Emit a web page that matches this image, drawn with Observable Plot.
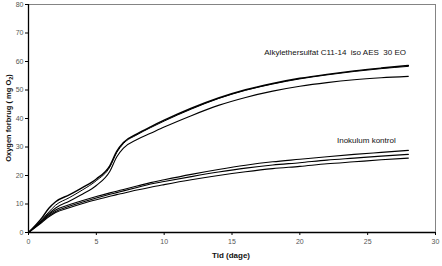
<!DOCTYPE html>
<html><head><meta charset="utf-8">
<script src="https://cdn.jsdelivr.net/npm/d3@7"></script>
<script src="https://cdn.jsdelivr.net/npm/@observablehq/plot@0.6"></script>
<style>
body{margin:0;background:#fff;}
svg{font-family:"Liberation Sans",Arial,sans-serif;}
</style></head><body><div id="chart"></div>
<script>
const days = [0, 1, 1.5, 2, 3, 4, 5, 6, 6.5, 7, 8, 9, 10, 12, 14, 16, 18, 20, 22, 24, 26, 28];
const testA = [0, 5.2, 8.5, 10.8, 13.2, 15.8, 18.8, 23.5, 28.5, 31.6, 34.6, 37.1, 39.4, 43.6, 47.2, 50.1, 52.3, 54.1, 55.5, 56.7, 57.7, 58.6];
const testC = [0, 4.6, 7.2, 9.6, 12.2, 15.0, 18.2, 23.0, 28.0, 31.2, 34.3, 36.8, 39.1, 43.3, 47.0, 49.9, 52.1, 53.9, 55.3, 56.5, 57.5, 58.3];
const testB = [0, 4.2, 6.6, 8.6, 11.0, 13.5, 16.5, 21.5, 26.5, 29.6, 32.6, 34.8, 37.0, 41.0, 44.6, 47.4, 49.6, 51.3, 52.6, 53.6, 54.3, 54.8];
const inok1 = [0, 4.2, 6.3, 7.9, 9.7, 11.2, 12.6, 13.9, 14.5, 15.1, 16.3, 17.5, 18.5, 20.4, 22.1, 23.6, 24.8, 25.7, 26.6, 27.4, 28.1, 28.8];
const inok2 = [0, 3.9, 5.9, 7.4, 9.2, 10.7, 12.1, 13.4, 14.0, 14.6, 15.8, 17.0, 17.9, 19.6, 21.2, 22.6, 23.7, 24.5, 25.4, 26.1, 26.8, 27.4];
const inok3 = [0, 3.6, 5.5, 7.0, 8.7, 10.2, 11.5, 12.7, 13.3, 13.8, 14.9, 15.9, 16.8, 18.5, 20.0, 21.3, 22.4, 23.2, 24.1, 24.8, 25.5, 26.1];
const xTicks = [0, 5, 10, 15, 20, 25, 30];
const yTicks = [0, 10, 20, 30, 40, 50, 60, 70, 80];
const labels = [
  {x: 22.6, y: 63.2, text: "Alkylethersulfat C11-14  iso AES  30 EO"},
  {x: 24.9, y: 32.3, text: "Inokulum kontrol"}
];
const seriesList = [
  {name: "A", vals: testA, w: 1.4},
  {name: "C", vals: testC, w: 1.0},
  {name: "B", vals: testB, w: 1.1},
  {name: "I1", vals: inok1, w: 1.1},
  {name: "I2", vals: inok2, w: 1.1},
  {name: "I3", vals: inok3, w: 1.1}
];
const rows = seriesList.flatMap(s => days.map((d, i) => ({s: s.name, x: d, y: s.vals[i], w: s.w})));

const chart = Plot.plot({
  width: 442, height: 266,
  marginLeft: 28, marginRight: 7, marginTop: 4, marginBottom: 34,
  x: {domain: [0, 30]},
  y: {domain: [0, 80]},
  style: {fontFamily: "Liberation Sans, Arial, sans-serif", background: "#fff"},
  marks: [
    Plot.frame({stroke: "#666", strokeWidth: 0.8}),
    Plot.axisX({ticks: xTicks, tickSize: 3, tickPadding: 4, fontSize: 7, fill: "#555", stroke: "#000", label: null}),
    Plot.axisY({ticks: yTicks, tickSize: 3, tickPadding: 2, fontSize: 7, fill: "#555", stroke: "#000", label: null}),
    Plot.ruleX([0], {stroke: "#000", strokeWidth: 1.3}),
    Plot.ruleY([0], {stroke: "#000", strokeWidth: 1.5}),
    ...seriesList.map(s => Plot.line(rows.filter(r => r.s === s.name), {x: "x", y: "y", stroke: "#000", strokeWidth: s.w, curve: "monotone-x"})),
    Plot.text(labels, {x: "x", y: "y", text: "text", fontSize: 8, fill: "#111"})
  ]
});
const svg = d3.select(chart);
svg.append("text").attr("x", 231).attr("y", 258).attr("text-anchor", "middle")
  .attr("font-size", 8).attr("font-weight", "bold").attr("fill", "#111").text("Tid (dage)");
const yt = svg.append("text").attr("transform", "translate(11,118) rotate(-90)").attr("text-anchor", "middle")
  .attr("font-size", 7.5).attr("font-weight", "bold").attr("fill", "#111");
yt.append("tspan").text("Oxygen forbrug ( mg O");
yt.append("tspan").attr("font-size", 5.5).attr("dy", 2).text("2");
yt.append("tspan").attr("dy", -2).text(")");
document.getElementById("chart").appendChild(chart);
</script></body></html>
